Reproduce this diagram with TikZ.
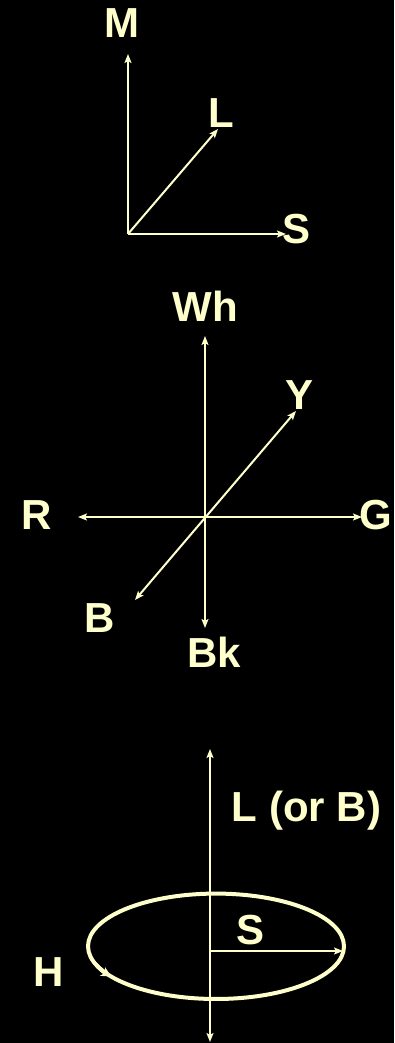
\documentclass[tikz,border=0pt]{standalone}
\usepackage{fontspec}
\setmainfont{Liberation Sans}
\usetikzlibrary{arrows.meta}
\definecolor{fg}{HTML}{FFFFCC}
\begin{document}
\begin{tikzpicture}[x=1pt,y=1pt,
  tip/.tip={Stealth[length=9pt,width=7pt,inset=2pt]},
  ax/.style={draw=fg, line width=2pt, -tip},
  dax/.style={draw=fg, line width=2pt, tip-tip},
  lab/.style={text=fg, inner sep=0pt, anchor=base, font=\fontsize{42}{42}\selectfont\bfseries}]
\fill[black] (0,0) rectangle (394,1043);
\useasboundingbox (0,0) rectangle (394,1043);

% ---- diagram 1 ----
\coordinate (o1) at (128,809);
\coordinate (mtip) at (128,989);
\coordinate (ltip) at (218,914);
\coordinate (stip) at (286,809);
\draw[ax] (o1) -- (mtip);
\draw[ax] (o1) -- (ltip);
\draw[ax] (o1) -- (stip);
\node[lab] (labM) at (122,1005) {M};
\node[lab] (labL) at (221,915) {L};
\node[lab] (labS) at (296.5,799) {S};

% ---- diagram 2 ----
\coordinate (o2) at (205,526);
\coordinate (whtip) at (205,707);
\coordinate (bktip) at (205,415);
\coordinate (rtip) at (78,526);
\coordinate (gtip) at (362,526);
\coordinate (ytip) at (296,632);
\coordinate (btip) at (135,443);
\draw[dax] (bktip) -- (whtip);
\draw[dax] (rtip) -- (gtip);
\draw[dax] (btip) -- (ytip);
\node[lab] (labWh) at (205,721) {Wh};
\node[lab] (labY) at (299.5,633) {Y};
\node[lab] (labR) at (36.5,513) {R};
\node[lab] (labG) at (376,513) {G};
\node[lab] (labB) at (100,410) {B};
\node[lab] (labBk) at (214,375) {Bk};

% ---- diagram 3 ----
\coordinate (c3) at (216,96.7);
\draw[fg, line width=4pt] (c3) ellipse [x radius=128, y radius=52.7];
\draw[fg, line width=4pt, -{Stealth[length=10pt,width=10pt,inset=3pt]}]
  ([shift={(200:128pt and 52.7pt)}]c3) arc[start angle=200, end angle=215, x radius=128pt, y radius=52.7pt];
\coordinate (atop) at (210,294);
\coordinate (abot) at (210,1);
\coordinate (sfrom) at (210,92);
\coordinate (sto) at (343,92);
\draw[dax] (abot) -- (atop);
\draw[ax] (sfrom) -- (sto);
\node[lab] (labLB) at (306.5,221) {L (or B)};
\node[lab] (labS3) at (250.5,98) {S};
\node[lab] (labH) at (49,56) {H};
\end{tikzpicture}
\end{document}
